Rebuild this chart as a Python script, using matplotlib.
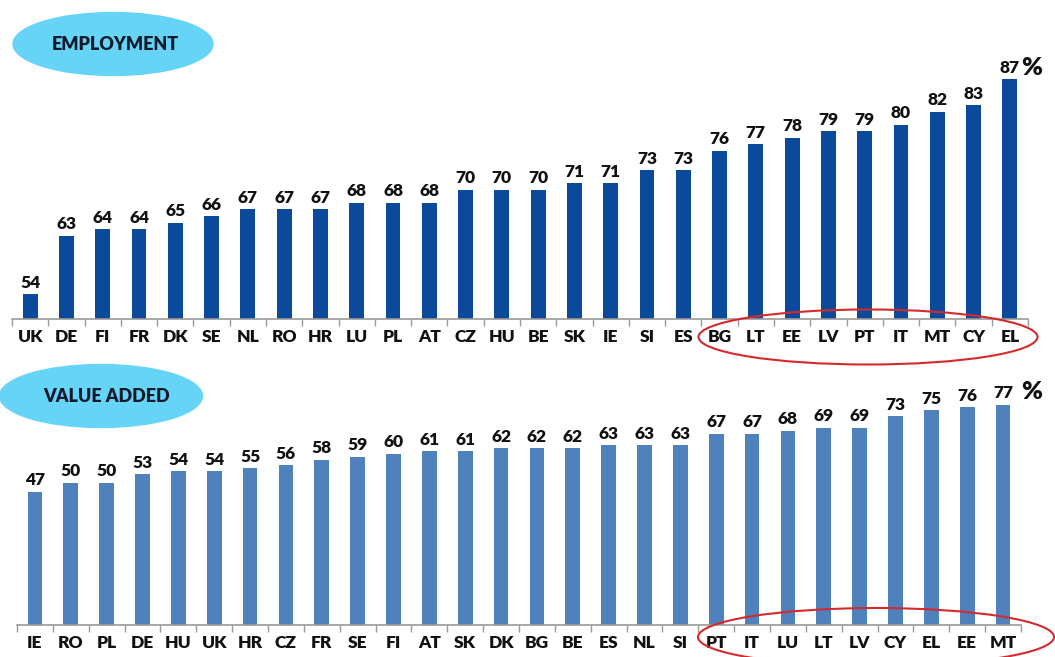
import matplotlib
matplotlib.use("Agg")
import matplotlib.pyplot as plt
from matplotlib.patches import Ellipse

plt.rcParams["font.family"] = ["Lato", "DejaVu Sans"]

# Employment (%)
emp_countries = ["UK", "DE", "FI", "FR", "DK", "SE", "NL", "RO", "HR", "LU", "PL", "AT",
                 "CZ", "HU", "BE", "SK", "IE", "SI", "ES", "BG", "LT", "EE", "LV", "PT",
                 "IT", "MT", "CY", "EL"]
emp_values = [54, 63, 64, 64, 65, 66, 67, 67, 67, 68, 68, 68, 70, 70, 70, 71, 71, 73, 73,
              76, 77, 78, 79, 79, 80, 82, 83, 87]

# Value added (%)
va_countries = ["IE", "RO", "PL", "DE", "HU", "UK", "HR", "CZ", "FR", "SE", "FI", "AT",
                "SK", "DK", "BG", "BE", "ES", "NL", "SI", "PT", "IT", "LU", "LT", "LV",
                "CY", "EL", "EE", "MT"]
va_values = [47, 50, 50, 53, 54, 54, 55, 56, 58, 59, 60, 61, 61, 62, 62, 62, 63, 63, 63,
             67, 67, 68, 69, 69, 73, 75, 76, 77]

W, H = 1055, 657
EMP_COLOR = "#0B4A9A"
VA_COLOR = "#4F81BD"
BADGE_COLOR = "#66D4F7"
RING_COLOR = "#D42A2E"
TXT = "#111111"
WEIGHT = "heavy"


def px(x0, y0, x1, y1):
    """pixel box (top-left origin) -> figure fraction rect"""
    return [x0 / W, 1 - y1 / H, (x1 - x0) / W, (y1 - y0) / H]


def bar_panel(ax, names, vals, color, ymin, ymax):
    x = range(len(names))
    ax.bar(x, vals, width=0.41, color=color)
    ax.set_xlim(-0.5, len(names) - 0.5)
    ax.set_ylim(ymin, ymax)
    for i, v in zip(x, vals):
        ax.annotate(str(v), (i, v), xytext=(0, 2.5), textcoords="offset points",
                    ha="center", va="bottom", fontsize=12.5, fontweight=WEIGHT,
                    color=TXT)
    ax.set_xticks(list(x))
    ax.set_xticklabels(names, fontsize=12.5, fontweight=WEIGHT, color=TXT)
    ax.tick_params(axis="x", length=0, pad=7)
    ax.set_xticks([i - 0.5 for i in range(len(names) + 1)], minor=True)
    ax.tick_params(axis="x", which="minor", length=5, color="#9a9a9a", width=1)
    ax.set_yticks([])
    for s in ["top", "right", "left"]:
        ax.spines[s].set_visible(False)
    ax.spines["bottom"].set_color("#9a9a9a")
    ax.spines["bottom"].set_linewidth(1.2)
    ax.patch.set_alpha(0)


fig = plt.figure(figsize=(W / 100, H / 100), dpi=100)

ax1 = fig.add_axes(px(12, 55, 1028, 319))
bar_panel(ax1, emp_countries, emp_values, EMP_COLOR, 50.2, 90.7)

ax2 = fig.add_axes(px(17, 393, 1021, 625))
bar_panel(ax2, va_countries, va_values, VA_COLOR, 1, 81)

# overlay for badges, rings and % signs
ov = fig.add_axes([0, 0, 1, 1])
ov.set_xlim(0, W)
ov.set_ylim(H, 0)
ov.axis("off")
ov.patch.set_alpha(0)

ov.add_patch(Ellipse((113, 44), 200, 63, color=BADGE_COLOR, zorder=1))
ov.text(115, 44, "EMPLOYMENT", ha="center", va="center", fontsize=13,
        fontweight=WEIGHT, color="#111a2a")
ov.add_patch(Ellipse((101, 396), 203, 63, color=BADGE_COLOR, zorder=1))
ov.text(107, 396, "VALUE ADDED", ha="center", va="center", fontsize=13,
        fontweight=WEIGHT, color="#111a2a")

ov.add_patch(Ellipse((868, 337), 339, 55, fill=False, ec=RING_COLOR, lw=1.5))
ov.add_patch(Ellipse((876, 637), 356, 58, fill=False, ec=RING_COLOR, lw=1.5))

ov.text(1032, 68, "%", ha="center", va="center", fontsize=18, fontweight=WEIGHT,
        color=TXT)
ov.text(1032, 392, "%", ha="center", va="center", fontsize=18, fontweight=WEIGHT,
        color=TXT)

fig.savefig("out.png", dpi=100)
